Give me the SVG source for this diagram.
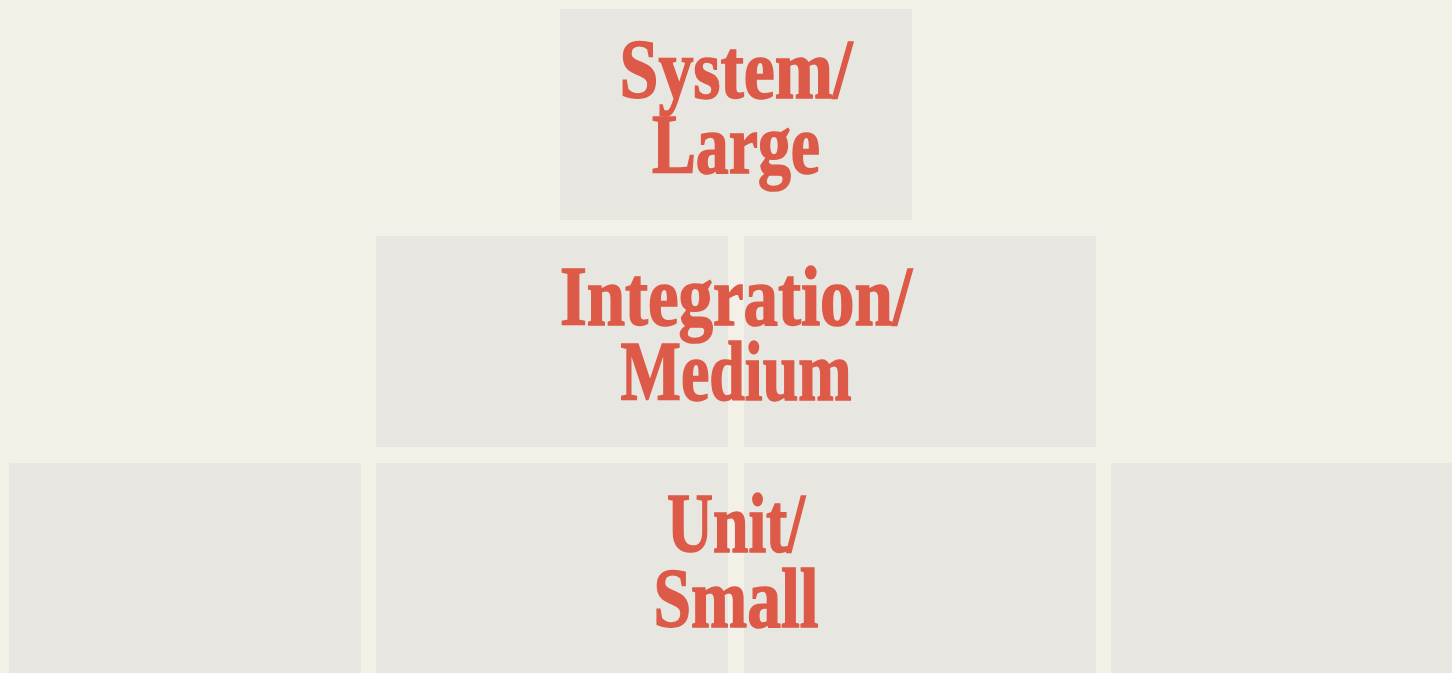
<svg xmlns="http://www.w3.org/2000/svg" width="1452" height="673" viewBox="0 0 1452 673">
<style>
.bg{fill:#f3f1e7}
.box{fill:#e7e6e1}
.lbl{font-family:"Liberation Serif","DejaVu Serif",serif;font-weight:bold;font-size:84px;fill:#dc5a47;stroke:#dc5a47;stroke-width:1.6;text-anchor:middle}
</style>
<rect class="bg" x="0" y="0" width="1452" height="673"/>
<g id="boxes">
<g id="system-box"><rect class="box" x="560" y="9" width="352" height="211"/></g>
<g id="integration-left"><rect class="box" x="376" y="236" width="352" height="211"/></g>
<g id="integration-right"><rect class="box" x="744" y="236" width="352" height="211"/></g>
<g id="unit-1"><rect class="box" x="9" y="463" width="352" height="211"/></g>
<g id="unit-2"><rect class="box" x="376" y="463" width="352" height="211"/></g>
<g id="unit-3"><rect class="box" x="744" y="463" width="352" height="211"/></g>
<g id="unit-4"><rect class="box" x="1111" y="463" width="352" height="211"/></g>
</g>
<g id="connectors"></g>
<g id="labels">
<g id="label-system">
<text class="lbl" x="736" y="98" textLength="233" lengthAdjust="spacingAndGlyphs">System/</text>
<text class="lbl" x="736" y="173" textLength="168" lengthAdjust="spacingAndGlyphs">Large</text>
</g>
<g id="label-integration">
<text class="lbl" x="736" y="325" textLength="352" lengthAdjust="spacingAndGlyphs">Integration/</text>
<text class="lbl" x="736" y="400" textLength="231" lengthAdjust="spacingAndGlyphs">Medium</text>
</g>
<g id="label-unit">
<text class="lbl" x="736" y="552" textLength="138" lengthAdjust="spacingAndGlyphs">Unit/</text>
<text class="lbl" x="736" y="627" textLength="165" lengthAdjust="spacingAndGlyphs">Small</text>
</g>
</g>
</svg>
